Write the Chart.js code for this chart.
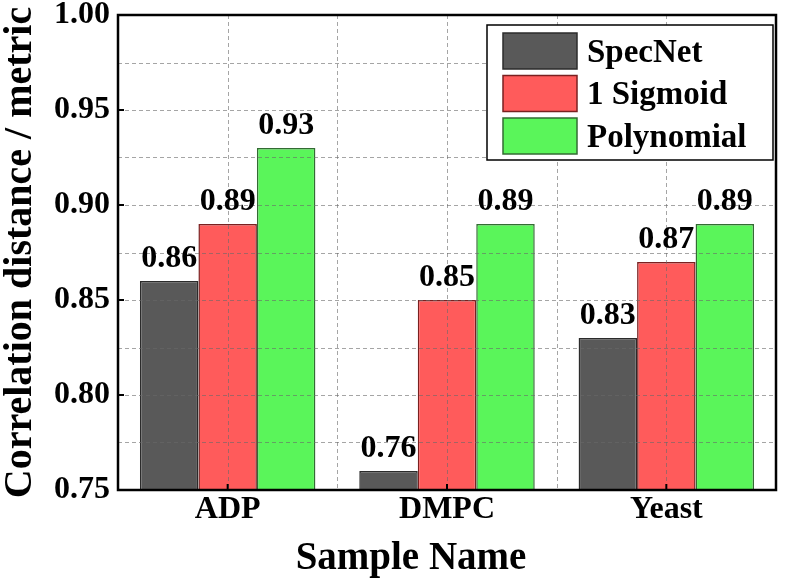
<!DOCTYPE html>
<html><head><meta charset="utf-8">
<script src="https://cdn.jsdelivr.net/npm/chart.js@4/dist/chart.umd.min.js"></script>
<style>html,body{margin:0;padding:0;background:#fff;}</style>
</head><body>
<canvas id="c" width="785" height="583" style="width:785px;height:583px;display:block"></canvas>
<script>
// ---- data ----
const categories = ['ADP', 'DMPC', 'Yeast'];
const seriesNames = ['SpecNet', '1 Sigmoid', 'Polynomial'];
const specNet = [0.86, 0.76, 0.83];
const sigmoid1 = [0.89, 0.85, 0.87];
const polynomial = [0.93, 0.89, 0.89];
const yTickValues = [0.75, 0.80, 0.85, 0.90, 0.95, 1.00];
const yLabel = 'Correlation distance / metric';
const xLabel = 'Sample Name';

// ---- style ----
const FONT = '"Liberation Serif", "Times New Roman", Times, serif';
const fills = ['#595959', '#ff5b5b', '#5af55a'];
const borders = ['#2b2b2b', '#7a2020', '#336b33'];

const seriesValues = [specNet, sigmoid1, polynomial];

const overlay = {
  id: 'overlay',
  afterDatasetsDraw(chart) {
    const ctx = chart.ctx, a = chart.chartArea;
    const xs = chart.scales.x, ys = chart.scales.y;
    ctx.save();
    // dashed grid on top of bars
    ctx.strokeStyle = 'rgba(105,105,105,0.6)';
    ctx.lineWidth = 1;
    ctx.setLineDash([4, 3]);
    const hLines = [];
    for (let i = 0; i < yTickValues.length; i++) {
      hLines.push(yTickValues[i]);
      if (i < yTickValues.length - 1) hLines.push((yTickValues[i] + yTickValues[i + 1]) / 2);
    }
    hLines.forEach(v => {
      const py = Math.round(ys.getPixelForValue(v)) + 0.5;
      if (py <= a.top + 2 || py >= a.bottom - 2) return;
      ctx.beginPath(); ctx.moveTo(a.left, py); ctx.lineTo(a.right, py); ctx.stroke();
    });
    const vLines = [];
    for (let i = 0; i < categories.length; i++) {
      const cx = xs.getPixelForValue(i);
      vLines.push(cx);
      if (i > 0) vLines.push((xs.getPixelForValue(i - 1) + cx) / 2);
    }
    vLines.forEach(px0 => {
      const px = Math.round(px0) + 0.5;
      ctx.beginPath(); ctx.moveTo(px, a.top); ctx.lineTo(px, a.bottom); ctx.stroke();
    });
    ctx.setLineDash([]);

    // value labels
    ctx.fillStyle = '#000';
    ctx.font = 'bold 32px ' + FONT;
    ctx.textAlign = 'center';
    ctx.textBaseline = 'alphabetic';
    chart.data.datasets.forEach((ds, di) => {
      chart.getDatasetMeta(di).data.forEach((bar, i) => {
        ctx.fillText(ds.data[i].toFixed(2), bar.x, bar.y - 14);
      });
    });

    // frame
    ctx.strokeStyle = '#000';
    ctx.lineWidth = 2.5;
    ctx.strokeRect(a.left, a.top, a.right - a.left, a.bottom - a.top);
    // inward ticks
    ctx.lineWidth = 2;
    yTickValues.forEach(v => {
      const py = ys.getPixelForValue(v);
      ctx.beginPath(); ctx.moveTo(a.left, py); ctx.lineTo(a.left + 6, py); ctx.stroke();
    });
    for (let i = 0; i < categories.length; i++) {
      const px = xs.getPixelForValue(i);
      ctx.beginPath(); ctx.moveTo(px, a.bottom); ctx.lineTo(px, a.bottom - 6); ctx.stroke();
    }

    // legend
    const lx = a.right - 289, ly = a.top + 10, lw = 286, lh = 135;
    ctx.fillStyle = '#fff';
    ctx.fillRect(lx, ly, lw, lh);
    ctx.strokeStyle = '#000';
    ctx.lineWidth = 1.5;
    ctx.strokeRect(lx, ly, lw, lh);
    ctx.font = 'bold 33px ' + FONT;
    ctx.textAlign = 'left';
    ctx.textBaseline = 'middle';
    chart.data.datasets.forEach((ds, di) => {
      const sy = ly + 8 + di * 42.5;
      ctx.fillStyle = ds.backgroundColor;
      ctx.fillRect(lx + 16, sy, 74, 36);
      ctx.strokeStyle = ds.borderColor;
      ctx.lineWidth = 1.5;
      ctx.strokeRect(lx + 16, sy, 74, 36);
      ctx.fillStyle = '#000';
      ctx.fillText(ds.label, lx + 100, sy + 20);
    });

    // axis titles
    ctx.fillStyle = '#000';
    ctx.textAlign = 'center';
    ctx.textBaseline = 'alphabetic';
    ctx.font = 'bold 39px ' + FONT;
    ctx.fillText(xLabel, 411, 569);
    ctx.save();
    ctx.translate(31, (a.top + a.bottom) / 2);
    ctx.rotate(-Math.PI / 2);
    ctx.font = 'bold 40px ' + FONT;
    ctx.fillText(yLabel, 0, 0);
    ctx.restore();
    ctx.restore();
  }
};

function build() {
  new Chart(document.getElementById('c'), {
    type: 'bar',
    data: {
      labels: categories,
      datasets: seriesNames.map((name, i) => ({
        label: name,
        data: seriesValues[i],
        backgroundColor: fills[i],
        borderColor: borders[i],
        borderWidth: 1.5,
        categoryPercentage: 0.8,
        barPercentage: 1.0
      }))
    },
    options: {
      responsive: false,
      animation: false,
      devicePixelRatio: 1,
      layout: { padding: { top: 15, right: 9, left: 0, bottom: 0 } },
      plugins: { legend: { display: false }, tooltip: { enabled: false } },
      scales: {
        x: {
          grid: { display: false, drawTicks: false },
          border: { display: false },
          ticks: { color: '#000', padding: 4, font: { family: FONT, size: 32, weight: 'bold', lineHeight: 1 } },
          title: { display: false },
          afterFit(s) { s.height = 93; }
        },
        y: {
          min: 0.75, max: 1.0,
          grid: { display: false, drawTicks: false },
          border: { display: false },
          afterBuildTicks(s) { s.ticks = yTickValues.map(v => ({ value: v })); },
          ticks: { color: '#000', padding: 8,
            font: { family: FONT, size: 32, weight: 'bold', lineHeight: 0.4 },
            callback: v => Number(v).toFixed(2) },
          title: { display: false },
          afterFit(s) { s.width = 118; }
        }
      }
    },
    plugins: [overlay]
  });
}

Promise.all([
  document.fonts.load('bold 30px "Liberation Serif"'),
  document.fonts.load('30px "Liberation Serif"')
]).then(build, build);
</script>
</body></html>
